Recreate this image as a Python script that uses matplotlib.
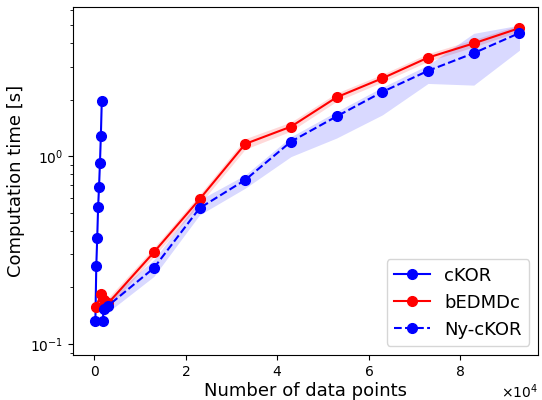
import matplotlib.pyplot as plt

# cKOR timings (small problem sizes only)
ckor_n = [200, 400, 600, 800, 1000, 1200, 1400, 1600]
ckor_t = [0.133, 0.261, 0.366, 0.537, 0.687, 0.921, 1.287, 1.97]

# bEDMDc timings with spread
bedmdc_n = [300, 1500, 2000, 3000, 13000, 23000, 33000, 43000, 53000, 63000, 73000, 83000, 93000]
bedmdc_t = [0.157, 0.185, 0.172, 0.165, 0.308, 0.590, 1.163, 1.437, 2.06, 2.60, 3.35, 3.99, 4.81]
bedmdc_lo = [0.148, 0.172, 0.162, 0.156, 0.292, 0.555, 1.09, 1.36, 1.96, 2.48, 3.20, 3.82, 4.62]
bedmdc_hi = [0.168, 0.198, 0.184, 0.176, 0.326, 0.625, 1.24, 1.52, 2.17, 2.73, 3.52, 4.18, 5.00]

# Nystroem cKOR timings with spread
ny_n = [1800, 2000, 3000, 13000, 23000, 33000, 43000, 53000, 63000, 73000, 83000, 93000]
ny_t = [0.132, 0.153, 0.160, 0.254, 0.529, 0.748, 1.196, 1.63, 2.20, 2.85, 3.54, 4.53]
ny_lo = [0.122, 0.140, 0.148, 0.229, 0.487, 0.676, 0.995, 1.25, 1.66, 2.44, 2.39, 3.67]
ny_hi = [0.142, 0.166, 0.173, 0.281, 0.586, 0.795, 1.27, 1.73, 2.33, 3.06, 4.51, 4.99]

fig, ax = plt.subplots(figsize=(5.42, 4), dpi=100)
fig.subplots_adjust(left=0.135, right=0.993, bottom=0.1125, top=0.9825)

ax.plot(ckor_n, ckor_t, "-o", c="blue", lw=1.5, ms=7, label="cKOR")
ax.plot(bedmdc_n, bedmdc_t, "-o", c="red", lw=1.5, ms=7, label="bEDMDc")
ax.fill_between(bedmdc_n, bedmdc_lo, bedmdc_hi, color="red", alpha=0.15, lw=0)
ax.plot(ny_n, ny_t, "--o", c="blue", lw=1.5, ms=7, label="Ny-cKOR")
ax.fill_between(ny_n, ny_lo, ny_hi, color="blue", alpha=0.15, lw=0)

ax.set_yscale("log")
ax.set_xlim(-4660, 97100)
ax.set_ylim(0.0874, 6.23)
ax.ticklabel_format(axis="x", style="sci", scilimits=(0, 0), useMathText=True)
ax.set_xlabel("Number of data points", fontsize=13, labelpad=2)
ax.set_ylabel("Computation time [s]", fontsize=13)
ax.legend(loc="lower right", fontsize=13)

plt.savefig("out.png")
